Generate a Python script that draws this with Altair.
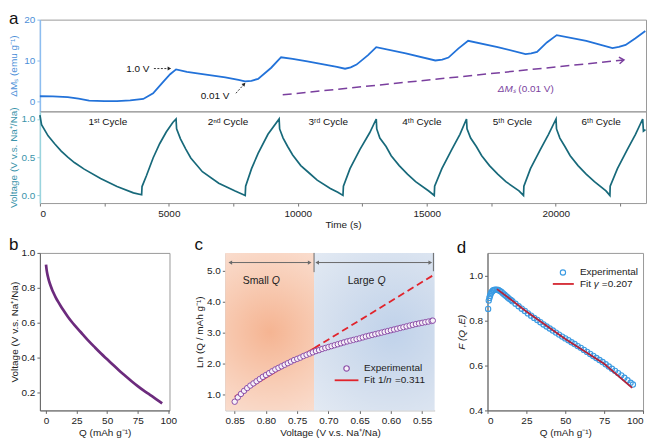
import altair as alt
import pandas as pd

FONT = "Liberation Sans"

# ---------------- panel a: magnetization vs time ----------------
a_m_time = [0, 500, 1081, 1500, 1908, 2500, 2990, 3500, 4008, 4389,
            4771, 5050, 5280, 5700, 6170, 7188, 7700, 7951, 8200, 8460,
            8969, 9351, 9800, 10369, 11514, 11832, 12050, 12278, 12723, 13041,
            14186, 15331, 15600, 15840, 16221, 16603, 17748, 18829, 19050, 19275,
            19656, 20038, 21183, 22200, 22450, 22710, 23092, 23473]
a_m_val = [1.2, 1.15, 1.0, 0.6, 0.15, 0.0, 0.0, 0.2, 0.54, 1.94,
           4.68, 6.6, 7.8, 7.2, 6.78, 5.85, 5.2, 4.85, 5.0, 5.46,
           8.2, 10.77, 10.4, 9.74, 8.43, 7.96, 8.3, 8.97, 11.3, 13.26,
           11.7, 9.98, 10.2, 10.7, 12.9, 14.8, 13.26, 11.55, 11.7, 12.1,
           14.4, 16.2, 14.8, 13.0, 13.3, 13.8, 15.45, 17.2]

# ---------------- panel a: voltage vs time ----------------
a_v_time = [0, 64, 318, 572, 827, 1081, 1336, 1717, 2353, 2990, 3626, 3944,
            3960, 4134, 4389, 4643, 4898, 5152, 5279,
            5300, 5450, 5650, 5850, 6300, 6934, 7570, 7960,
            7977, 8206, 8460, 8842, 9275,
            9295, 9430, 9606, 9800, 10115, 10450, 10751, 11260, 11550, 11750,
            11768, 12023, 12405, 12786, 13041,
            13060, 13180, 13422, 13620, 13931, 14250, 14567, 15076, 15290,
            15305, 15585, 15967, 16285, 16540,
            16560, 16700, 16921, 17130, 17430, 17750, 18066, 18575, 18750,
            18765, 19020, 19402, 19720, 20011,
            20030, 20160, 20355, 20560, 20864, 21180, 21500, 21947, 22100,
            22111, 22392, 22774, 23092, 23371,
            23400, 23480]
a_v_val = [1.05, 0.925, 0.78, 0.676, 0.58, 0.50, 0.43, 0.344, 0.22, 0.116, 0.033, 0.008,
           0.116, 0.26, 0.49, 0.676, 0.83, 0.954, 1.0,
           0.87, 0.74, 0.61, 0.49, 0.31, 0.16, 0.058, 0.0,
           0.12, 0.35, 0.55, 0.80, 1.0,
           0.87, 0.75, 0.64, 0.53, 0.39, 0.29, 0.20, 0.09, 0.04, 0.0,
           0.12, 0.35, 0.60, 0.82, 1.0,
           0.87, 0.75, 0.64, 0.52, 0.39, 0.28, 0.18, 0.058, 0.0,
           0.12, 0.35, 0.60, 0.80, 1.0,
           0.87, 0.75, 0.64, 0.52, 0.39, 0.28, 0.18, 0.06, 0.0,
           0.12, 0.35, 0.60, 0.80, 1.0,
           0.87, 0.75, 0.64, 0.52, 0.39, 0.28, 0.18, 0.06, 0.0,
           0.12, 0.35, 0.60, 0.80, 1.0,
           0.84, 0.86]
cycle_labels = ["1ˢᵗ Cycle", "2ⁿᵈ Cycle", "3ʳᵈ Cycle", "4ᵗʰ Cycle", "5ᵗʰ Cycle", "6ᵗʰ Cycle"]
cycle_label_t = [2634, 7290, 11180, 14810, 18320, 21760]
cycle_label_v = [0.955, 0.955, 0.955, 0.955, 0.955, 0.955]

trend_t = [9415, 22645]
trend_m = [1.55, 10.1]

# ---------------- panel b ----------------
b_q = [0, 0.5, 1, 2, 3, 4, 5, 6, 8, 10, 12, 14, 18, 22, 26, 30, 35, 40, 45, 50, 55, 60,
       65, 70, 75, 80, 85, 90, 95]
b_v = [0.933, 0.903, 0.882, 0.852, 0.828, 0.808, 0.790, 0.774, 0.745, 0.720, 0.697,
       0.675, 0.634, 0.598, 0.566, 0.535, 0.496, 0.460, 0.425, 0.392, 0.359, 0.327,
       0.297, 0.267, 0.239, 0.213, 0.189, 0.165, 0.140]

# ---------------- panel c ----------------
c_v = [0.850, 0.845, 0.840, 0.835, 0.830, 0.825, 0.820, 0.815, 0.810, 0.805,
       0.800, 0.795, 0.790, 0.785, 0.780, 0.775, 0.770, 0.765, 0.760, 0.755,
       0.750, 0.745, 0.740, 0.735, 0.730, 0.725, 0.720, 0.715, 0.710, 0.705,
       0.700, 0.695, 0.690, 0.685, 0.680, 0.675, 0.670, 0.665, 0.660, 0.655,
       0.650, 0.645, 0.640, 0.635, 0.630, 0.625, 0.620, 0.615, 0.610, 0.605,
       0.600, 0.595, 0.590, 0.585, 0.580, 0.575, 0.570, 0.565, 0.560, 0.555,
       0.550, 0.545, 0.540, 0.535, 0.533]
c_lnq = [0.78, 0.92, 1.03, 1.13, 1.22, 1.30, 1.37, 1.44, 1.51, 1.58,
         1.64, 1.70, 1.76, 1.82, 1.87, 1.92, 1.97, 2.02, 2.07, 2.12,
         2.16, 2.20, 2.25, 2.29, 2.33, 2.37, 2.41, 2.44, 2.48, 2.51,
         2.54, 2.57, 2.60, 2.63, 2.66, 2.69, 2.72, 2.745, 2.77, 2.795,
         2.82, 2.85, 2.88, 2.905, 2.93, 2.955, 2.98, 3.005, 3.03, 3.055,
         3.08, 3.105, 3.13, 3.155, 3.18, 3.205, 3.23, 3.255, 3.28, 3.30,
         3.32, 3.34, 3.36, 3.38, 3.39]
c_fit_solid_v = [0.85, 0.723]
c_fit_solid_y = [0.94, 2.50]
c_fit_dash_v = [0.723, 0.53]
c_fit_dash_y = [2.50, 4.88]
c_split = 0.723

# ---------------- panel d ----------------
d_q = [0.4, 0.8, 1.2, 1.6, 2.0, 2.4, 3.0, 3.5, 4.2, 5, 6, 7, 8, 9, 10, 11, 12, 13, 14, 15,
       16, 18, 20, 22, 24, 26, 28, 30, 32, 34, 36, 38, 40, 42, 44, 46, 48, 50, 52, 54,
       56, 58, 60, 62, 64, 66, 68, 70, 72, 74, 76, 78, 80, 82, 84, 86, 88, 90, 92, 93.5]
d_f = [0.851, 0.888, 0.900, 0.909, 0.917, 0.924, 0.929, 0.933, 0.935, 0.937, 0.937, 0.935,
       0.931, 0.926, 0.920, 0.914, 0.908, 0.902, 0.896, 0.891,
       0.885, 0.874, 0.863, 0.852, 0.842, 0.831, 0.821, 0.811, 0.802, 0.792,
       0.782, 0.773, 0.764, 0.755, 0.746, 0.737, 0.728, 0.720, 0.712, 0.703,
       0.695, 0.686, 0.678, 0.669, 0.660, 0.651, 0.642, 0.633, 0.624, 0.615,
       0.605, 0.595, 0.585, 0.576, 0.566, 0.556, 0.545, 0.534, 0.523, 0.515]
d_fit_q = [6.1, 25, 50, 75, 93]
d_fit_f = [0.939, 0.840, 0.717, 0.607, 0.500]

# ====================== styling constants ======================
MCOL = "#2272d9"
MAX = "#4d8fd8"
VCOL = "#17697a"
VAX = "#3a93aa"
PURP = "#7a3f9e"
W_A = 608
H_TOP = 92
H_BOT = 92
H_ROW = 158
EXT = 19

def title(letter, offset):
    return alt.TitleParams(letter, anchor="start", frame="bounds", offset=offset,
                           fontSize=17, fontWeight="normal", font=FONT, color="#111")

# ====================== panel a (top) ======================
xa = alt.Scale(domain=[0, 23500], nice=False)
ya_m = alt.Scale(domain=[-2.5, 20], nice=False)
ya_v = alt.Scale(domain=[-0.1, 1.1], nice=False)

ax_m = alt.Axis(values=[0, 10, 20], format="d", title="ΔMₛ (emu g⁻¹)", titleColor=MAX,
                labelColor=MAX, domainColor="#8dbdf0", tickColor="#8dbdf0", domainWidth=1.5,
                minExtent=EXT, maxExtent=EXT)
X_top = alt.X("t:Q", scale=xa, axis=None)
Y_top = alt.Y("m:Q", scale=ya_m, axis=ax_m)

df_m = pd.DataFrame({"t": a_m_time, "m": a_m_val})
m_line = alt.Chart(df_m).mark_line(color=MCOL, strokeWidth=1.8).encode(x=X_top, y=Y_top)

df_trend = pd.DataFrame({"t": trend_t, "m": trend_m})
trend_line = alt.Chart(df_trend).mark_line(color=PURP, strokeWidth=1.5, strokeDash=[9, 5]).encode(x=X_top, y=Y_top)
trend_head = alt.Chart(df_trend.tail(1)).mark_point(
    shape="M-1,-0.7L0,0L-1,0.7", filled=False, color=PURP, strokeWidth=1.5, size=90, angle=354, opacity=1
).encode(x=X_top, y=Y_top)

df_lbl_trend1 = pd.DataFrame({"t": [18450], "m": [3.1], "txt": ["ΔMₛ"]})
df_lbl_trend2 = pd.DataFrame({"t": [18550], "m": [3.1], "txt": ["(0.01 V)"]})
trend_txt1 = alt.Chart(df_lbl_trend1).mark_text(align="right", fontStyle="italic", fontSize=10, color=PURP, font=FONT).encode(x=X_top, y=Y_top, text="txt:N")
trend_txt2 = alt.Chart(df_lbl_trend2).mark_text(align="left", fontSize=10, color=PURP, font=FONT).encode(x=X_top, y=Y_top, text="txt:N")

df_ann = pd.DataFrame({"t": [4250, 7350], "m": [8.0, 1.2], "txt": ["1.0 V", "0.01 V"]})
ann_txt = alt.Chart(df_ann).mark_text(align="right", fontSize=10, color="#111", font=FONT).encode(x=X_top, y=Y_top, text="txt:N")

df_arr1 = pd.DataFrame({"t": [4420, 5020], "m": [8.0, 8.0]})
arr1 = alt.Chart(df_arr1).mark_line(color="#222", strokeWidth=0.9, strokeDash=[2, 1.5]).encode(x=X_top, y=Y_top)
arr1_head = alt.Chart(df_arr1.tail(1)).mark_point(shape="triangle-right", filled=True, color="#222", size=16, opacity=1).encode(x=X_top, y=Y_top)
df_arr2 = pd.DataFrame({"t": [7600, 7920], "m": [1.94, 4.2]})
arr2 = alt.Chart(df_arr2).mark_line(color="#222", strokeWidth=0.9, strokeDash=[2, 1.5]).encode(x=X_top, y=Y_top)
arr2_head = alt.Chart(df_arr2.tail(1)).mark_point(shape="triangle-up", angle=44, filled=True, color="#222", size=16, opacity=1).encode(x=X_top, y=Y_top)

top = alt.layer(trend_line, trend_head, m_line, trend_txt1, trend_txt2, ann_txt,
                arr1, arr1_head, arr2, arr2_head).properties(
    width=W_A, height=H_TOP, title=title("a", -13))

# ====================== panel a (bottom) ======================
ax_t = alt.Axis(values=list(range(0, 23501, 2500)),
                labelExpr="datum.value % 5000 == 0 ? format(datum.value, 'd') : ''",
                title="Time (s)", domain=False, tickColor="#777")
ax_v = alt.Axis(values=[0, 0.5, 1.0], format=".1f", title="Voltage (V v.s. Na⁺/Na)", titleColor=VAX,
                labelColor=VAX, domainColor="#9ad4de", tickColor="#9ad4de", domainWidth=1.5,
                minExtent=EXT, maxExtent=EXT)
X_bot = alt.X("t:Q", scale=xa, axis=ax_t)
Y_bot = alt.Y("v:Q", scale=ya_v, axis=ax_v)

df_v = pd.DataFrame({"t": a_v_time, "v": a_v_val})
v_line = alt.Chart(df_v).mark_line(color=VCOL, strokeWidth=1.7).encode(x=X_bot, y=Y_bot)
df_cyc = pd.DataFrame({"t": cycle_label_t, "v": cycle_label_v, "txt": cycle_labels})
cyc_txt = alt.Chart(df_cyc).mark_text(fontSize=10, color="#111", font=FONT).encode(x=X_bot, y=Y_bot, text="txt:N")
bottom = alt.layer(v_line, cyc_txt).properties(width=W_A, height=H_BOT)

a_block = alt.vconcat(top, bottom, spacing=0, bounds="flush")

# ====================== panel b ======================
df_b = pd.DataFrame({"q": b_q, "v": b_v})
panel_b = alt.Chart(df_b).mark_line(color="#6c2b7d", strokeWidth=2.7, interpolate="monotone").encode(
    x=alt.X("q:Q", scale=alt.Scale(domain=[-5, 101], nice=False),
            axis=alt.Axis(values=[0, 25, 50, 75, 100], title="Q (mAh g⁻¹)")),
    y=alt.Y("v:Q", scale=alt.Scale(domain=[0.1, 1.0], nice=False),
            axis=alt.Axis(values=[0.2, 0.4, 0.6, 0.8, 1.0], format=".1f", title="Voltage (V v.s. Na⁺/Na)")),
).properties(width=130, height=H_ROW, title=title("b", -6))

# ====================== panel c ======================
xc = alt.Scale(domain=[0.53, 0.865], reverse=True, nice=False, zero=False)
yc = alt.Scale(domain=[0.5, 5.57], nice=False)
ax_cx = alt.Axis(values=[0.85, 0.80, 0.75, 0.70, 0.65, 0.60, 0.55], format=".2f",
                 title="Voltage (V v.s. Na⁺/Na)", domainColor="#bbb")
ax_cy = alt.Axis(values=[1, 2, 3, 4, 5], format=".1f", title="Ln (Q / mAh g⁻¹)", domainColor="#bbb")
XC = alt.X("x:Q", scale=xc, axis=ax_cx)
YC = alt.Y("y:Q", scale=yc, axis=ax_cy)

grad_orange = alt.RadialGradient(gradient="radial", stops=[
    alt.GradientStop(color="#f5b492", offset=0), alt.GradientStop(color="#f8cdb6", offset=0.45),
    alt.GradientStop(color="#fbe8df", offset=1)], x1=0.5, y1=0.5, x2=0.5, y2=0.5, r1=0, r2=0.75)
grad_blue = alt.RadialGradient(gradient="radial", stops=[
    alt.GradientStop(color="#c0d2ea", offset=0), alt.GradientStop(color="#d4dfee", offset=0.5),
    alt.GradientStop(color="#e7edf5", offset=1)], x1=0.62, y1=0.5, x2=0.62, y2=0.5, r1=0, r2=0.8)

df_rs = pd.DataFrame({"x": [0.865], "x2": [c_split], "y": [0.5], "y2": [5.57]})
df_rl = pd.DataFrame({"x": [c_split], "x2": [0.53], "y": [0.5], "y2": [5.57]})
rect_s = alt.Chart(df_rs).mark_rect(fill=grad_orange).encode(x=XC, x2="x2:Q", y=YC, y2="y2:Q")
rect_l = alt.Chart(df_rl).mark_rect(fill=grad_blue).encode(x=XC, x2="x2:Q", y=YC, y2="y2:Q")

GR = "#6a6a6a"
df_hz = pd.DataFrame({"x": [0.857, 0.718], "x2": [0.730, 0.537], "y": [5.26, 5.26]})
hz = alt.Chart(df_hz).mark_rule(color=GR, strokeWidth=1).encode(x=XC, x2="x2:Q", y=YC)
df_vt = pd.DataFrame({"x": [c_split, 0.532], "y": [4.95, 4.98], "y2": [5.57, 5.57]})
vt = alt.Chart(df_vt).mark_rule(color=GR, strokeWidth=1).encode(x=XC, y=YC, y2="y2:Q")
df_hl = pd.DataFrame({"x": [0.857, 0.718], "y": [5.26, 5.26]})
df_hr = pd.DataFrame({"x": [0.730, 0.537], "y": [5.26, 5.26]})
hl = alt.Chart(df_hl).mark_point(shape="triangle-left", filled=True, color=GR, size=18, opacity=1).encode(x=XC, y=YC)
hr = alt.Chart(df_hr).mark_point(shape="triangle-right", filled=True, color=GR, size=18, opacity=1).encode(x=XC, y=YC)

df_rn = pd.DataFrame({"x": [0.797, 0.628], "y": [4.66, 4.66], "txt": ["Small", "Large"]})
df_rq = pd.DataFrame({"x": [0.797, 0.628], "y": [4.66, 4.66], "txt": ["Q", "Q"]})
rn = alt.Chart(df_rn).mark_text(align="right", dx=1, fontSize=10.5, color="#222", font=FONT).encode(x=XC, y=YC, text="txt:N")
rq = alt.Chart(df_rq).mark_text(align="left", dx=4, fontSize=10.5, fontStyle="italic", color="#222", font=FONT).encode(x=XC, y=YC, text="txt:N")

df_c = pd.DataFrame({"x": c_v, "y": c_lnq})
c_pts = alt.Chart(df_c).mark_point(shape="circle", filled=True, fill="#f6f0f8", stroke="#8b4fa8",
                                   strokeWidth=1, size=30, opacity=1).encode(x=XC, y=YC)
df_cfs = pd.DataFrame({"x": c_fit_solid_v, "y": c_fit_solid_y})
df_cfd = pd.DataFrame({"x": c_fit_dash_v, "y": c_fit_dash_y})
c_fit1 = alt.Chart(df_cfs).mark_line(color="#e1232b", strokeWidth=1.8).encode(x=XC, y=YC)
c_fit2 = alt.Chart(df_cfd).mark_line(color="#e1232b", strokeWidth=1.8, strokeDash=[7, 4]).encode(x=XC, y=YC)

# legend c
df_lc_pt = pd.DataFrame({"x": [0.671], "y": [1.85]})
lc_pt = alt.Chart(df_lc_pt).mark_point(shape="circle", filled=True, fill="#f6f0f8", stroke="#8b4fa8",
                                       strokeWidth=1.2, size=30, opacity=1).encode(x=XC, y=YC)
df_lc_t1 = pd.DataFrame({"x": [0.643], "y": [1.85], "txt": ["Experimental"]})
lc_t1 = alt.Chart(df_lc_t1).mark_text(align="left", fontSize=10, color="#222", font=FONT).encode(x=XC, y=YC, text="txt:N")
df_lc_ln = pd.DataFrame({"x": [0.690], "x2": [0.652], "y": [1.47]})
lc_ln = alt.Chart(df_lc_ln).mark_rule(color="#e1232b", strokeWidth=1.8).encode(x=XC, x2="x2:Q", y=YC)
df_lc_t2 = pd.DataFrame({"x": [0.643], "y": [1.47], "txt": ["Fit 1/"]})
lc_t2 = alt.Chart(df_lc_t2).mark_text(align="left", fontSize=10, color="#222", font=FONT).encode(x=XC, y=YC, text="txt:N")
df_lc_t3 = pd.DataFrame({"x": [0.643], "y": [1.47], "txt": ["n"]})
lc_t3 = alt.Chart(df_lc_t3).mark_text(align="left", dx=22, fontSize=10, fontStyle="italic", color="#222", font=FONT).encode(x=XC, y=YC, text="txt:N")
df_lc_t4 = pd.DataFrame({"x": [0.643], "y": [1.47], "txt": ["=0.311"]})
lc_t4 = alt.Chart(df_lc_t4).mark_text(align="left", dx=31, fontSize=10, color="#222", font=FONT).encode(x=XC, y=YC, text="txt:N")

panel_c = alt.layer(rect_s, rect_l, hz, vt, hl, hr, rn, rq, c_fit1, c_fit2, c_pts,
                    lc_pt, lc_t1, lc_ln, lc_t2, lc_t3, lc_t4).properties(
    width=210, height=H_ROW, title=title("c", -2), view=alt.ViewBackground(strokeOpacity=0))

# ====================== panel d ======================
xd = alt.Scale(domain=[0, 100], nice=False)
yd = alt.Scale(domain=[0.4, 1.1], nice=False)
ax_dx = alt.Axis(values=[0, 25, 50, 75, 100], title="Q (mAh g⁻¹)")
ax_dy = alt.Axis(values=[0.4, 0.6, 0.8, 1.0], format=".1f", title="F (Q ,E)", titleFontStyle="italic")
XD = alt.X("x:Q", scale=xd, axis=ax_dx)
YD = alt.Y("y:Q", scale=yd, axis=ax_dy)
DCOL = "#3b9be3"
FCOL = "#b3243a"

df_d = pd.DataFrame({"x": d_q, "y": d_f})
d_pts = alt.Chart(df_d).mark_point(shape="circle", filled=False, color=DCOL, strokeWidth=1.1, size=28, opacity=1).encode(x=XD, y=YD)
df_dfit = pd.DataFrame({"x": d_fit_q, "y": d_fit_f})
d_fit = alt.Chart(df_dfit).mark_line(color=FCOL, strokeWidth=1.8).encode(x=XD, y=YD)

df_ld_pt = pd.DataFrame({"x": [48.5], "y": [1.013]})
ld_pt = alt.Chart(df_ld_pt).mark_point(shape="circle", filled=False, color=DCOL, strokeWidth=1.1, size=28, opacity=1).encode(x=XD, y=YD)
df_ld_t1 = pd.DataFrame({"x": [59.4], "y": [1.013], "txt": ["Experimental"]})
ld_t1 = alt.Chart(df_ld_t1).mark_text(align="left", fontSize=10, color="#222", font=FONT).encode(x=XD, y=YD, text="txt:N")
df_ld_ln = pd.DataFrame({"x": [42], "x2": [55.5], "y": [0.962]})
ld_ln = alt.Chart(df_ld_ln).mark_rule(color="#d42630", strokeWidth=1.8).encode(x=XD, x2="x2:Q", y=YD)
df_ld_t2 = pd.DataFrame({"x": [59.4], "y": [0.962], "txt": ["Fit"]})
ld_t2 = alt.Chart(df_ld_t2).mark_text(align="left", fontSize=10, color="#222", font=FONT).encode(x=XD, y=YD, text="txt:N")
df_ld_t3 = pd.DataFrame({"x": [59.4], "y": [0.962], "txt": ["γ"]})
ld_t3 = alt.Chart(df_ld_t3).mark_text(align="left", dx=14, fontSize=10, fontStyle="italic", color="#222", font=FONT).encode(x=XD, y=YD, text="txt:N")
df_ld_t4 = pd.DataFrame({"x": [59.4], "y": [0.962], "txt": ["=0.207"]})
ld_t4 = alt.Chart(df_ld_t4).mark_text(align="left", dx=22, fontSize=10, color="#222", font=FONT).encode(x=XD, y=YD, text="txt:N")

panel_d = alt.layer(d_pts, d_fit, ld_pt, ld_t1, ld_ln, ld_t2, ld_t3, ld_t4).properties(
    width=156, height=H_ROW, title=title("d", -4))

row2 = alt.hconcat(panel_b, alt.hconcat(panel_c, spacing=0), panel_d, spacing=17)

chart = alt.vconcat(a_block, row2, spacing=4).properties(padding=0).configure_axis(
    labelFont=FONT, titleFont=FONT, labelFontSize=10, titleFontSize=10,
    titleFontWeight="normal", labelColor="#222", titleColor="#222",
    tickColor="#666", domainColor="#666", tickSize=3, grid=False,
    labelPadding=2, titlePadding=2,
).configure_view(stroke="#9a9a9a").configure_text(font=FONT)

chart.save("out.html", embed_options={"renderer": "svg", "actions": False})
